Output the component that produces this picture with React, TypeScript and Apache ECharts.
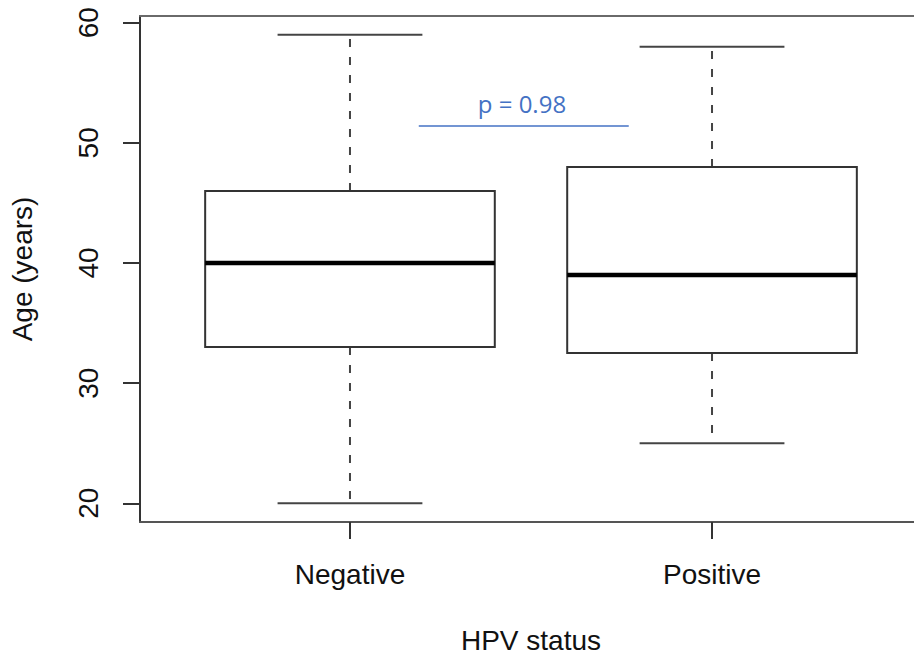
import React, { useEffect, useRef } from "react";
import * as echarts from "echarts";

const categories = ["Negative", "Positive"];
const mins = [20, 25];
const q1s = [33, 32.5];
const medians = [40, 39];
const q3s = [46, 48];
const maxs = [59, 58];
const yTicks = [20, 30, 40, 50, 60];
const xTicks = [1, 2];
const pLabel = "p = 0.98";
const pLine = [1.19, 1.77, 51.4];
const pTextX = 1.475;

const FONT = "'Liberation Sans', Arial, Helvetica, sans-serif";

export default function App() {
  const ref = useRef<HTMLDivElement>(null);
  useEffect(() => {
    if (!ref.current) return;
    const chart = echarts.init(ref.current, null, { renderer: "svg" });
    const boxData = categories.map((_, i) => [i + 1, mins[i], q1s[i], medians[i], q3s[i], maxs[i]]);
    const option: any = {
      animation: false,
      backgroundColor: "#ffffff",
      grid: {
        left: 140,
        top: 16,
        right: 0,
        bottom: 136,
        show: false,
      },
      xAxis: [
        {
          type: "value",
          position: "bottom",
          min: 0.42,
          max: 2.58,
          splitLine: { show: false },
          axisLine: { show: true, lineStyle: { color: "#555", width: 2 } },
          axisTick: {
            show: true,
            customValues: xTicks,
            length: 17,
            lineStyle: { color: "#333", width: 2 },
          },
          axisLabel: {
            customValues: xTicks,
            formatter: (v: number) => categories[Math.round(v) - 1] ?? "",
            fontSize: 28,
            fontFamily: FONT,
            color: "#111",
            margin: 38,
          },
          name: "HPV status",
          nameLocation: "middle",
          nameGap: 104,
          nameTextStyle: { fontSize: 28, fontFamily: FONT, color: "#111" },
        },
        {
          type: "value",
          position: "top",
          min: 0.42,
          max: 2.58,
          splitLine: { show: false },
          axisLine: { show: true, lineStyle: { color: "#6a6a6a", width: 2 } },
          axisTick: { show: false },
          axisLabel: { show: false },
        },
      ],
      yAxis: {
        type: "value",
        min: 18.44,
        max: 60.56,
        splitLine: { show: false },
        axisLine: { show: true, lineStyle: { color: "#333", width: 2 } },
        axisTick: {
          show: true,
          customValues: yTicks,
          length: 17,
          lineStyle: { color: "#333", width: 2 },
        },
        axisLabel: {
          customValues: yTicks,
          rotate: 90,
          fontSize: 28,
          fontFamily: FONT,
          color: "#111",
          margin: 38,
        },
        name: "Age (years)",
        nameLocation: "middle",
        nameRotate: 90,
        nameGap: 104,
        nameTextStyle: { fontSize: 28, fontFamily: FONT, color: "#111" },
      },
      series: [
        {
          type: "custom",
          xAxisIndex: 0,
          data: boxData,
          renderItem: (params: any, api: any) => {
            const x = api.value(0);
            const w = api.size([0.8, 0])[0];
            const cw = api.size([0.4, 0])[0];
            const pMin = api.coord([x, api.value(1)]);
            const pQ1 = api.coord([x, api.value(2)]);
            const pMed = api.coord([x, api.value(3)]);
            const pQ3 = api.coord([x, api.value(4)]);
            const pMax = api.coord([x, api.value(5)]);
            const cx = pMed[0];
            const boxStroke = "#333";
            const whisk = { stroke: "#444", lineWidth: 2, lineDash: [8, 10] };
            const cap = { stroke: "#444", lineWidth: 2 };
            return {
              type: "group",
              children: [
                { type: "line", shape: { x1: cx, y1: pQ3[1], x2: cx, y2: pMax[1] }, style: whisk },
                { type: "line", shape: { x1: cx, y1: pQ1[1], x2: cx, y2: pMin[1] }, style: whisk },
                { type: "line", shape: { x1: cx - cw / 2, y1: pMax[1], x2: cx + cw / 2, y2: pMax[1] }, style: cap },
                { type: "line", shape: { x1: cx - cw / 2, y1: pMin[1], x2: cx + cw / 2, y2: pMin[1] }, style: cap },
                {
                  type: "rect",
                  shape: { x: cx - w / 2, y: pQ3[1], width: w, height: pQ1[1] - pQ3[1] },
                  style: { fill: "#fff", stroke: boxStroke, lineWidth: 2 },
                },
                {
                  type: "line",
                  shape: { x1: cx - w / 2, y1: pMed[1], x2: cx + w / 2, y2: pMed[1] },
                  style: { stroke: "#000", lineWidth: 4.5 },
                },
              ],
            };
          },
        },
        {
          type: "custom",
          xAxisIndex: 0,
          data: [[pLine[0], pLine[1], pLine[2], pTextX]],
          renderItem: (params: any, api: any) => {
            const a = api.coord([api.value(0), api.value(2)]);
            const b = api.coord([api.value(1), api.value(2)]);
            const t = api.coord([api.value(3), api.value(2)]);
            return {
              type: "group",
              children: [
                { type: "line", shape: { x1: a[0], y1: a[1], x2: b[0], y2: b[1] }, style: { stroke: "#4472C4", lineWidth: 1.5 } },
                {
                  type: "text",
                  style: {
                    text: pLabel,
                    x: t[0],
                    y: t[1] - 11,
                    textAlign: "center",
                    textVerticalAlign: "bottom",
                    fill: "#4472C4",
                    fontSize: 24,
                    fontFamily: "'Open Sans', 'Noto Sans', sans-serif",
                  },
                },
              ],
            };
          },
        },
      ],
    };
    chart.setOption(option);
    return () => chart.dispose();
  }, []);
  return (
    <div
      style={{
        position: "fixed",
        left: 0,
        top: 0,
        width: 914,
        height: 659,
        overflow: "hidden",
        background: "#fff",
      }}
    >
      <div ref={ref} style={{ width: 922, height: 659 }} />
    </div>
  );
}
